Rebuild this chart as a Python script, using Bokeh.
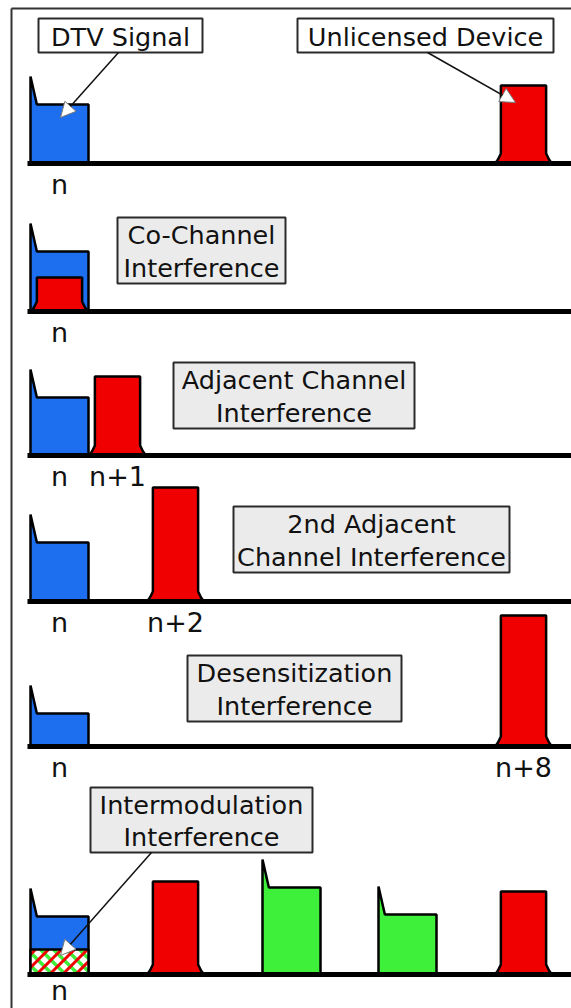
from bokeh.plotting import figure
from bokeh.models import Range1d, Arrow, NormalHead
from bokeh.core.properties import value
from bokeh.embed import file_html
from bokeh.resources import INLINE

# ---------------- data ----------------
# power levels (arbitrary units above each spectrum baseline)
DTV_CH = 0
DTV_LEVEL = [59, 60, 58, 59, 33, 58]
PILOT_LEVEL = 28
UNL_CH = [[8], [0], [1], [2], [8], [2, 8]]
UNL_LEVEL = [[78], [34], [79], [114], [131], [93, 83]]
OTHER_DTV_CH = [4, 6]          # green stations in intermodulation panel
OTHER_DTV_LEVEL = [87, 60]
IMD_PRODUCT_LEVEL = 25
CH_LABEL_TEXT = [["n"], ["n"], ["n", "n+1"], ["n", "n+2"], ["n", "n+8"], ["n"]]
CH_LABEL_CH = [[0], [0], [0, 1], [0, 2], [0, 8], [0]]
BOX_TEXT = ["DTV Signal", "Unlicensed Device", "Co-Channel\nInterference",
            "Adjacent Channel\nInterference", "2nd Adjacent\nChannel Interference",
            "Desensitization\nInterference", "Intermodulation\nInterference"]

# ---------------- layout ----------------
PANEL_BASE = [163, 311, 455, 601, 746, 974]
BOX_L = [38, 297, 117, 173, 233, 187, 90]
BOX_R = [202, 553, 285, 414, 509, 401, 312]
BOX_T = [18, 18, 217, 362, 506, 655, 787]
BOX_B = [52, 52, 283, 428, 572, 721, 852]
BOX_FILL = ["white", "white", "#ebebeb", "#ebebeb", "#ebebeb", "#ebebeb", "#ebebeb"]
PX_PER_CH = 58
CH0_PX = 59

BLUE = "#1e6ff0"
RED = "#f00000"
GREEN = "#3ef03a"
FONT = value("DejaVu Sans")

p = figure(width=571, height=1008, output_backend="svg", toolbar_location=None,
           x_range=Range1d(-CH0_PX / PX_PER_CH, (571 - CH0_PX) / PX_PER_CH),
           y_range=Range1d(1008, 0),
           min_border=0, background_fill_color="white", border_fill_color="white")
p.extra_x_ranges = {"px": Range1d(0, 571)}
p.axis.visible = False
p.grid.visible = False
p.outline_line_color = None


def dtv_shape(ch, base, level):
    L, R = ch - 0.5, ch + 0.5
    top = base - level
    return [L, L, L + 0.11, R, R], [base, top - PILOT_LEVEL, top, top, base]


def unl_shape(ch, base, level):
    return ([ch - 0.49, ch - 0.44, ch - 0.39, ch - 0.39, ch + 0.39, ch + 0.39, ch + 0.44, ch + 0.49],
            [base, base - 4, base - 10, base - level, base - level, base - 10, base - 4, base])


blue_xs, blue_ys = [], []
for i, base in enumerate(PANEL_BASE):
    xs, ys = dtv_shape(DTV_CH, base, DTV_LEVEL[i])
    blue_xs.append(xs)
    blue_ys.append(ys)
p.patches(blue_xs, blue_ys, fill_color=BLUE, line_color="black", line_width=2.5)

green_xs, green_ys = [], []
for ch, lv in zip(OTHER_DTV_CH, OTHER_DTV_LEVEL):
    xs, ys = dtv_shape(ch, PANEL_BASE[5], lv)
    green_xs.append(xs)
    green_ys.append(ys)
p.patches(green_xs, green_ys, fill_color=GREEN, line_color="black", line_width=2.5)

red_xs, red_ys = [], []
for i, base in enumerate(PANEL_BASE):
    for ch, lv in zip(UNL_CH[i], UNL_LEVEL[i]):
        xs, ys = unl_shape(ch, base, lv)
        red_xs.append(xs)
        red_ys.append(ys)
p.patches(red_xs, red_ys, fill_color=RED, line_color="black", line_width=2.5)

# intermodulation product: white cell with red/green crossing stripes
b6 = PANEL_BASE[5]
hx0 = CH0_PX + (DTV_CH - 0.5) * PX_PER_CH
hx1 = CH0_PX + (DTV_CH + 0.5) * PX_PER_CH
hy0 = b6 - IMD_PRODUCT_LEVEL
hy1 = b6
p.quad(left=[DTV_CH - 0.5], right=[DTV_CH + 0.5], top=[hy0], bottom=[hy1],
       fill_color="white", line_color=None)
STRIPE = 13
rx0, rx1, ry0, ry1 = [], [], [], []
gx0, gx1, gy0, gy1 = [], [], [], []
c = hx0 + hy0 - 60
while c < hx1 + hy1 + 60:
    # '/' stripe: x + y = c
    lo = max(hx0, c - hy1)
    hi = min(hx1, c - hy0)
    if lo < hi:
        rx0.append(lo); ry0.append(c - lo); rx1.append(hi); ry1.append(c - hi)
    c += STRIPE
c = hx0 - hy1 - 60 + 4
while c < hx1 - hy0 + 60:
    # '\' stripe: x - y = c
    lo = max(hx0, c + hy0)
    hi = min(hx1, c + hy1)
    if lo < hi:
        gx0.append(lo); gy0.append(lo - c); gx1.append(hi); gy1.append(hi - c)
    c += STRIPE
p.segment(x0=gx0, y0=gy0, x1=gx1, y1=gy1, x_range_name="px",
          line_color=GREEN, line_width=3.5)
p.segment(x0=rx0, y0=ry0, x1=rx1, y1=ry1, x_range_name="px",
          line_color=RED, line_width=3)
p.quad(left=[DTV_CH - 0.5], right=[DTV_CH + 0.5], top=[hy0], bottom=[hy1],
       fill_color=None, line_color="black", line_width=2.5)

# baselines
p.segment(x0=[-0.552] * 6, x1=[9.0] * 6, y0=PANEL_BASE, y1=PANEL_BASE,
          line_color="black", line_width=5)

# frame lines
p.segment(x0=[11, 11], x1=[11, 571], y0=[8, 8], y1=[1008, 8],
          x_range_name="px", line_color="#333333", line_width=2)

# channel labels
lx, ly, lt = [], [], []
for i, base in enumerate(PANEL_BASE):
    for ch, t in zip(CH_LABEL_CH[i], CH_LABEL_TEXT[i]):
        lx.append(ch)
        ly.append(min(base + 21, 990))
        lt.append(t)
p.text(x=lx, y=ly, text=lt, text_font=FONT, text_font_size="27px",
       text_align="center", text_baseline="middle", text_color="#111111")

# label boxes
p.quad(left=BOX_L, right=BOX_R, top=BOX_T, bottom=BOX_B, x_range_name="px",
       fill_color=BOX_FILL, line_color="#2a2a2a", line_width=2)
cx = [(a + b) / 2 for a, b in zip(BOX_L, BOX_R)]
cy = [(a + b) / 2 + 1 for a, b in zip(BOX_T, BOX_B)]
p.text(x=cx, y=cy, text=BOX_TEXT, x_range_name="px", text_font=FONT,
       text_font_size="25.5px", text_align="center", text_baseline="middle",
       text_line_height=1.08, text_color="#111111")

# pointer arrows
for xs, ys, xe, ye in [(118, 52, 60, 117), (427, 52, 515, 102), (151, 852, 60, 955)]:
    p.add_layout(Arrow(x_start=xs, y_start=ys, x_end=xe, y_end=ye, x_range_name="px",
                       line_color="#111111", line_width=1.5,
                       end=NormalHead(size=15, fill_color="white", line_color="#777777",
                                      line_width=1)))

open("out.html", "w").write(file_html(p, INLINE))
